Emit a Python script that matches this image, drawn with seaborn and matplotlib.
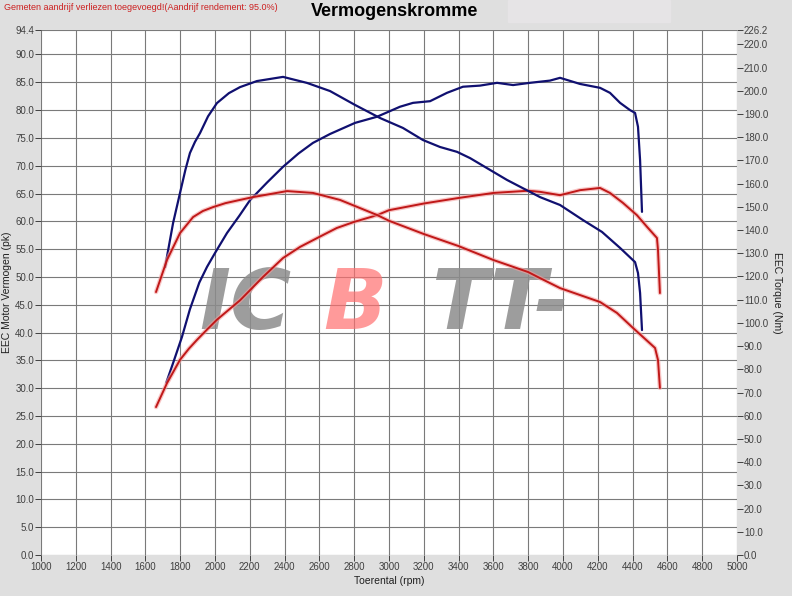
import matplotlib
matplotlib.use('Agg')
import matplotlib.pyplot as plt
import matplotlib.patheffects as pe
from matplotlib.patches import Rectangle
import numpy as np
import pandas as pd
import seaborn as sns

sns.set_style('white')
plt.rcParams['font.family'] = ['Liberation Sans', 'DejaVu Sans']

# Data
# tuned (blue) power, pk
rpm_pow_blue = [1720, 1759, 1810, 1856, 1910, 1954, 2000, 2069, 2140, 2201, 2300, 2391, 2480, 2563,
                2661, 2805, 2931, 3063, 3138, 3236, 3333, 3425, 3523, 3621, 3713, 3810, 3925,
                3983, 4098, 4213, 4270, 4328, 4385, 4414, 4431, 4443, 4454]
pow_blue = [31.0, 34.5, 39.2, 44.2, 49.0, 51.8, 54.3, 57.9, 61.0, 63.8, 67.0, 69.8, 72.2, 74.1,
            75.7, 77.7, 78.8, 80.6, 81.3, 81.6, 83.1, 84.2, 84.4, 84.9, 84.5, 84.9, 85.3,
            85.8, 84.7, 84.0, 83.1, 81.3, 80.0, 79.5, 77.0, 71.0, 61.7]

# tuned (blue) torque, Nm
rpm_trq_blue = [1713, 1759, 1799, 1830, 1856, 1885, 1914, 1960, 2011, 2080, 2144, 2241, 2391, 2529,
                2661, 2805, 2948, 3080, 3195, 3293, 3391, 3466, 3563, 3678, 3868, 3983, 4115,
                4224, 4328, 4414, 4431, 4443, 4454]
trq_blue = [124.0, 143.0, 156.0, 166.0, 173.2, 178.0, 181.8, 189.0, 194.7, 199.0, 201.6, 204.2, 206.0, 203.4,
            199.9, 193.9, 188.3, 184.0, 178.8, 175.8, 173.7, 171.0, 166.7, 161.6, 154.2, 150.8, 144.3,
            139.2, 132.3, 126.2, 121.5, 112.9, 96.9]

# stock (red) power, pk
rpm_pow_red = [1661, 1724, 1799, 1850, 1897, 1950, 2011, 2144, 2276, 2391, 2489, 2600, 2700, 2800,
               2931, 3000, 3200, 3400, 3600, 3800, 3868, 3983, 4098, 4213, 4270, 4345, 4425,
               4483, 4540, 4546, 4557]
pow_red = [26.6, 30.9, 35.1, 37.1, 38.7, 40.4, 42.3, 45.8, 50.0, 53.4, 55.4, 57.2, 58.8, 59.9,
           61.1, 62.0, 63.2, 64.2, 65.1, 65.5, 65.3, 64.7, 65.6, 66.0, 65.1, 63.3, 61.1,
           59.0, 57.0, 54.8, 47.1]

# stock (red) torque, Nm
rpm_trq_red = [1661, 1724, 1799, 1874, 1930, 1989, 2060, 2144, 2218, 2414, 2563, 2718, 2931, 3000,
               3200, 3400, 3600, 3800, 3868, 3983, 4098, 4213, 4310, 4397, 4460, 4529, 4546, 4557]
trq_red = [113.3, 127.1, 138.7, 145.6, 148.2, 149.9, 151.6, 153.0, 154.2, 156.8, 156.0, 153.0, 146.5, 144.0,
           138.3, 133.1, 127.1, 121.9, 119.3, 115.0, 112.0, 109.0, 104.3, 98.2, 93.9, 89.2, 84.0, 72.0]

x_ticks = list(range(1000, 5001, 200))
left_ticks = [i * 5.0 for i in range(19)] + [94.4]
right_ticks = [i * 10.0 for i in range(23)] + [226.2]

blue = '#101070'
red = '#c01818'
txt = '#404040'

fig = plt.figure(figsize=(7.92, 5.96), dpi=100)
fig.patch.set_facecolor('#dfdfdf')
fig.patches.append(Rectangle((508 / 792, 1 - 22 / 596), 162 / 792, 22 / 596,
                             transform=fig.transFigure, color='#e6e4e6', zorder=0))
ax = fig.add_axes([41 / 792, 41 / 596, 696 / 792, 525 / 596])
ax.set_facecolor('white')
ax2 = ax.twinx()

glow = [pe.Stroke(linewidth=3.2, foreground='#f4a0a0', alpha=0.6), pe.Normal()]

sns.lineplot(x=rpm_pow_blue, y=pow_blue, ax=ax, color=blue, lw=1.6, estimator=None, zorder=5)
sns.lineplot(x=rpm_pow_red, y=pow_red, ax=ax, color=red, lw=1.4, estimator=None, zorder=5,
             path_effects=glow)
sns.lineplot(x=rpm_trq_blue, y=trq_blue, ax=ax2, color=blue, lw=1.6, estimator=None, zorder=5)
sns.lineplot(x=rpm_trq_red, y=trq_red, ax=ax2, color=red, lw=1.4, estimator=None, zorder=5,
             path_effects=glow)

ax.set_xlim(1000, 5000)
ax.set_ylim(0, 94.4)
ax2.set_ylim(0, 226.2)

ax.set_xticks(x_ticks)
ax.set_xticklabels([str(v) for v in x_ticks])
ax.set_yticks(left_ticks)
ax.set_yticklabels(['%.1f' % v for v in left_ticks])
ax2.set_yticks(right_ticks)
ax2.set_yticklabels(['%.1f' % v for v in right_ticks])

ax.grid(True, color='#7a7a7a', lw=0.8, zorder=4)
for a in (ax, ax2):
    for s in a.spines.values():
        s.set_visible(False)
    a.tick_params(colors=txt, labelsize=7, length=4, width=0.7, direction='out', pad=1)
ax.tick_params(axis='y', left=True)
ax.tick_params(axis='x', bottom=True)
ax2.tick_params(axis='y', right=True)

ax.set_xlabel('Toerental (rpm)', fontsize=7.5, color='#202020', labelpad=3)
ax.set_ylabel('EEC Motor Vermogen (pk)', fontsize=7.5, color='#202020', labelpad=2)
ax2.set_ylabel('EEC Torque (Nm)', fontsize=7.5, color='#202020', rotation=-90, labelpad=10)

# watermark logo
logo = dict(transform=ax.transAxes, fontsize=60, fontweight='bold', style='italic',
            family='DejaVu Sans', va='center', ha='left')
ax.text(0.228, 0.475, 'IC', color='#8c8c8c', alpha=0.85, zorder=2, **logo)
ax.text(0.405, 0.475, 'B', color='#ff7070', alpha=0.7, zorder=3, **logo)
ax.text(0.56, 0.475, 'TT-', color='#8c8c8c', alpha=0.85, zorder=2, **logo)

fig.text(395 / 792, 1 - 12 / 596, 'Vermogenskromme', fontsize=13, fontweight='bold',
         color='black', ha='center', va='center')
fig.text(4 / 792, 1 - 8 / 596, 'Gemeten aandrijf verliezen toegevoegd!(Aandrijf rendement: 95.0%)',
         fontsize=6.5, color='#cc2020', ha='left', va='center')

fig.savefig('out.png', dpi=100, facecolor=fig.get_facecolor())
